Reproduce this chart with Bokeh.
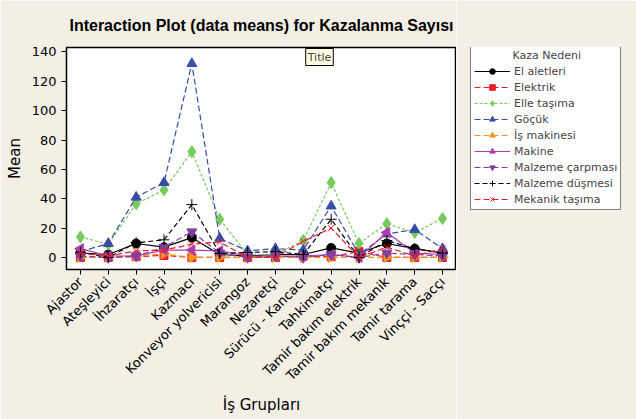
import math
from bokeh.plotting import figure
from bokeh.layouts import row
from bokeh.models import (Legend, LegendItem, Label, FixedTicker, Range1d)
from bokeh.embed import file_html
from bokeh.resources import INLINE

categories = ["Ajastor", "Ateşleyici", "İhzaratçı", "İşçi", "Kazmacı",
              "Konveyor yolvericisi", "Marangoz", "Nezaretçi", "Sürücü - Kancacı",
              "Tahkimatçı", "Tamir bakım elektrik", "Tamir bakım mekanik",
              "Tamir tarama", "Vinççi - Sacçı"]

el_aletleri = [3, 2, 9.5, 7, 13.5, 2, 1, 2, 2, 6.5, 3, 9.5, 6, 3]
elektrik = [0, 0, 0.5, 1.4, 0, 0, 0, 0, 1, 0.5, 4, 0, 0, 0]
elle_tasima = [14, 9, 36.5, 46, 72, 26, 2, 2, 11.5, 51, 9.5, 23, 17, 26.5]
gocuk = [4, 9.5, 41, 51, 132, 13, 4.5, 6, 5, 35, 2, 16, 19, 6]
is_makinesi = [0, 0, 1, 2.5, 0, 0, 0, 0, 0, 0, 0, 0, 0, 0]
makine = [6, 1, 1, 5, 5, 4.5, 1, 1, 1, 2, 0, 17, 3, 2]
malzeme_carpmasi = [1, 0, 1, 7, 17.5, 3, 0, 1, 0, 2, 0, 3, 2, 1]
malzeme_dusmesi = [3.5, 0, 10, 12, 36, 2.7, 3.4, 4, 2, 26, 0, 11.5, 6, 3]
mekanik_tasima = [3, 1, 4.5, 5, 9, 10.5, 0, 0, 11, 20, 0, 7, 1, 6]

series_names = ["El aletleri", "Elektrik", "Elle taşıma", "Göçük", "İş makinesi",
                "Makine", "Malzeme çarpması", "Malzeme düşmesi", "Mekanik taşıma"]
series_values = [el_aletleri, elektrik, elle_tasima, gocuk, is_makinesi,
                 makine, malzeme_carpmasi, malzeme_dusmesi, mekanik_tasima]

styles = [
    dict(color="#000000", dash="solid", marker="circle", size=9, angle=0),
    dict(color="#ED1C24", dash="6 3", marker="square", size=8, angle=0),
    dict(color="#74CC5C", dash="3 2", marker="diamond", size=12, angle=0),
    dict(color="#3A4DA6", dash="6 3", marker="triangle", size=10, angle=0),
    dict(color="#F7941D", dash="6 3", marker="triangle", size=10, angle=-math.pi / 2),
    dict(color="#B03CB0", dash="solid", marker="triangle", size=10, angle=math.pi / 2),
    dict(color="#7E3FA0", dash="6 3", marker="inverted_triangle", size=10, angle=0),
    dict(color="#000000", dash="5 3", marker="cross", size=11, angle=0),
    dict(color="#ED1C24", dash="6 3", marker="x", size=9, angle=0),
]

FONT = "DejaVu Sans"
BG = "#F3EFE5"

p = figure(frame_width=390, frame_height=222, output_backend="svg", toolbar_location=None,
           x_range=Range1d(-0.5, 13.5), y_range=Range1d(-8.2, 143),
           min_border_left=66, min_border_top=47, min_border_right=0,
           min_border_bottom=150,
           title="Interaction Plot (data means) for Kazalanma Sayısı")
p.title.align = "center"
p.title.text_font = "Liberation Sans"
p.title.text_font_size = "16px"
p.title.text_font_style = "bold"
p.title.text_color = "black"
p.title.standoff = 27
p.background_fill_color = "white"
p.border_fill_color = BG
p.outline_line_color = "black"
p.outline_line_width = 1.5
p.xgrid.visible = False
p.ygrid.visible = False

x = list(range(len(categories)))
for vals, st in zip(series_values, styles):
    p.line(x, vals, line_color=st["color"], line_dash=st["dash"], line_width=1.2)
    p.scatter(x, vals, marker=st["marker"], size=st["size"], angle=st["angle"],
              fill_color=st["color"], line_color=st["color"])

p.xaxis.ticker = FixedTicker(ticks=x)
p.xaxis.major_label_overrides = {i: c for i, c in enumerate(categories)}
p.xaxis.major_label_orientation = math.pi / 4
p.yaxis.ticker = FixedTicker(ticks=[0, 20, 40, 60, 80, 100, 120, 140])
for ax in (p.xaxis[0], p.yaxis[0]):
    ax.minor_tick_line_color = None
    ax.major_tick_in = 0
    ax.major_tick_out = 5
    ax.major_label_text_font = FONT
    ax.major_label_text_font_size = "13px"
    ax.major_label_text_color = "black"
    ax.axis_label_text_font = FONT
    ax.axis_label_text_font_size = "15px"
    ax.axis_label_text_font_style = "normal"
    ax.axis_label_text_color = "black"
    ax.axis_line_color = "black"
p.xaxis.axis_label = "İş Grupları"
p.yaxis.axis_label = "Mean"

p.add_layout(Label(x=253, y=204, x_units="screen", y_units="screen", text="Title",
                   text_font=FONT, text_font_size="11px", text_align="center",
                   background_fill_color="#FFFFE1", border_line_color="black",
                   padding=2))

# legend panel (separate canvas to the right of the plot; its frame aligns with the plot's)
pl = figure(width=180, height=419, output_backend="svg", toolbar_location=None,
            x_range=Range1d(-100, -99), y_range=Range1d(-100, -99),
            x_axis_type=None, y_axis_type=None,
            min_border_top=47, min_border_left=0, min_border_right=0,
            min_border_bottom=150)
pl.background_fill_color = BG
pl.border_fill_color = BG
pl.outline_line_color = None
pl.xgrid.visible = False
pl.ygrid.visible = False

items = []
for name, vals, st in zip(series_names, series_values, styles):
    # same data, outside this panel's ranges: only the legend glyphs show
    r1 = pl.line(x, vals, line_color=st["color"], line_dash=st["dash"], line_width=1.2)
    r2 = pl.scatter(x, vals, marker=st["marker"], size=st["size"], angle=st["angle"],
                    fill_color=st["color"], line_color=st["color"])
    items.append(LegendItem(label=name, renderers=[r1, r2]))

NB = "\u00a0"
legend = Legend(items=items, location=(14, 59))
legend.label_text_font = FONT
legend.label_text_font_size = "11px"
legend.glyph_width = 36
legend.glyph_height = 14
legend.label_height = 14
legend.spacing = 2
legend.padding = 3
legend.margin = 0
legend.label_standoff = 4
legend.border_line_color = "black"
legend.border_line_width = 1
legend.background_fill_alpha = 1
legend.background_fill_color = "white"
legend.title = NB * 11 + "Kaza Nedeni"
legend.title_text_font = FONT
legend.title_text_font_size = "11px"
legend.title_text_font_style = "normal"
legend.title_standoff = 2
pl.add_layout(legend, "center")

layout = row(p, pl, spacing=0)
open("out.html", "w").write(file_html(layout, INLINE))
